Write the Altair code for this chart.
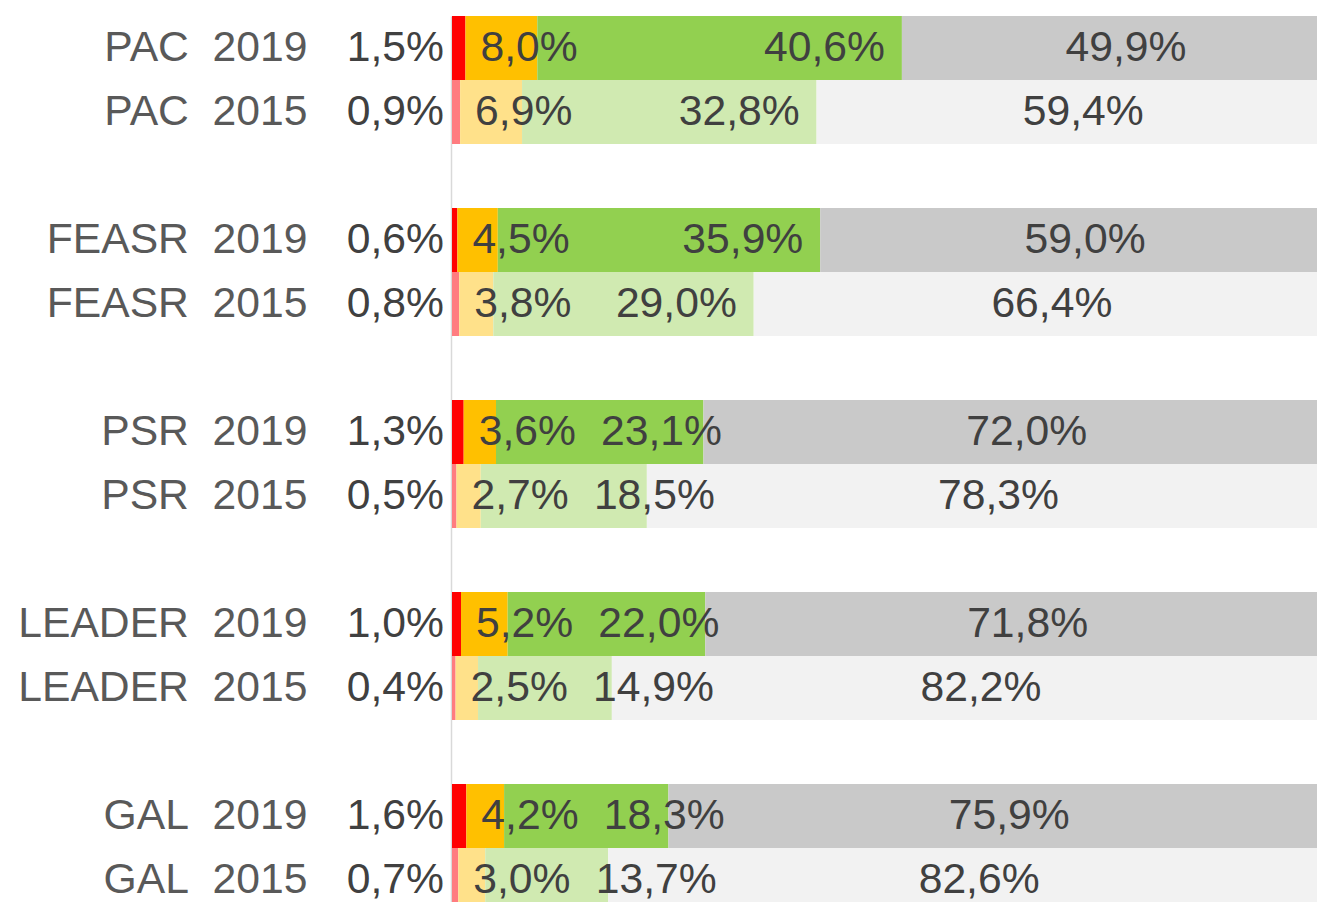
import altair as alt
import pandas as pd

programs = ["PAC", "FEASR", "PSR", "LEADER", "GAL"]
years = ["2019", "2015"]
# order: PAC 2019, PAC 2015, FEASR 2019, FEASR 2015, ...
red = [1.5, 0.9, 0.6, 0.8, 1.3, 0.5, 1.0, 0.4, 1.6, 0.7]
orange = [8.0, 6.9, 4.5, 3.8, 3.6, 2.7, 5.2, 2.5, 4.2, 3.0]
green = [40.6, 32.8, 35.9, 29.0, 23.1, 18.5, 22.0, 14.9, 18.3, 13.7]
gray = [49.9, 59.4, 59.0, 66.4, 72.0, 78.3, 71.8, 82.2, 75.9, 82.6]

segments = ["red", "orange", "green", "gray"]
color_keys = ["red2019", "orange2019", "green2019", "gray2019",
              "red2015", "orange2015", "green2015", "gray2015"]
color_vals = ["#FF0000", "#FFC000", "#92D050", "#C9C9C9",
              "#FF7C80", "#FFE18A", "#D0EAB1", "#F2F2F2"]

NB = "\u00a0\u00a0"
rows = []
slots = []
k = 0
for i, p in enumerate(programs):
    for y in years:
        name = f"{p}{NB}{y}"
        rows.append(dict(row=name, year=y, red=red[k], orange=orange[k],
                         green=green[k], gray=gray[k]))
        slots.append(name)
        k += 1
    if i < len(programs) - 1:
        slots.append(f"gap{i}")

wide = pd.DataFrame(rows)
long = wide.melt(id_vars=["row", "year"], value_vars=segments,
                 var_name="seg", value_name="value")
long["seg_i"] = long["seg"].map({s: i for i, s in enumerate(segments)})
long["key"] = long["seg"] + long["year"]

FONT = "Liberation Sans"
FS = 42.67
x_scale = alt.Scale(domain=[0, 100], range=[0, 898], nice=False, zero=True)
y_scale = alt.Scale(domain=slots, range=[0, 896], paddingInner=0, paddingOuter=0)
y_enc = alt.Y("row:N", scale=y_scale, sort=slots,
              axis=alt.Axis(title=None, ticks=False, tickSize=0, labelPadding=144,
                            labelFontSize=FS, labelColor="#595959", labelFont=FONT,
                            labelLimit=0, domainColor="#D9D9D9", domainWidth=1.5,
                            offset=1, grid=False,
                            labelExpr="indexof(datum.label, 'gap') === 0 ? '' : datum.label"))

bars = alt.Chart(long).mark_bar(strokeWidth=0).encode(
    x=alt.X("value:Q", stack="zero", scale=x_scale, axis=None),
    y=y_enc,
    color=alt.Color("key:N", scale=alt.Scale(domain=color_keys, range=color_vals), legend=None),
    order=alt.Order("seg_i:Q"),
)

fmt = lambda f: f"replace(format(datum.{f}, '.1f'), '.', ',') + '%'"
base = alt.Chart(wide).transform_calculate(
    c1="datum.red",
    c3="datum.red + datum.orange + datum.green",
    zero="0",
    lred=fmt("red"), lorange=fmt("orange"), lgreen=fmt("green"), lgray=fmt("gray"),
).transform_calculate(
    gx="max(datum.c3 - 15.35, datum.c1 + 15.3)",
    yx="(datum.c3 + 100) / 2",
)

txt = dict(fontSize=FS, font=FONT, color="#404040", baseline="middle")

t_red = base.mark_text(align="right", dx=-8, **txt).encode(
    x=alt.X("zero:Q", scale=x_scale, axis=None), y=y_enc, text="lred:N")
t_orange = base.mark_text(align="left", dx=15, **txt).encode(
    x=alt.X("c1:Q", scale=x_scale, axis=None), y=y_enc, text="lorange:N")
t_green = base.mark_text(align="left", **txt).encode(
    x=alt.X("gx:Q", scale=x_scale, axis=None), y=y_enc, text="lgreen:N")
t_gray = base.mark_text(align="center", **txt).encode(
    x=alt.X("yx:Q", scale=x_scale, axis=None), y=y_enc, text="lgray:N")

chart = alt.layer(bars, t_red, t_orange, t_green, t_gray).properties(
    width=865, height=886,
    padding={"left": 444, "top": 8, "right": 0, "bottom": 0},
    autosize=alt.AutoSizeParams(type="none"),
    background="white",
).configure_view(stroke=None)

chart.save("out.html", embed_options={"renderer": "svg", "actions": False})
